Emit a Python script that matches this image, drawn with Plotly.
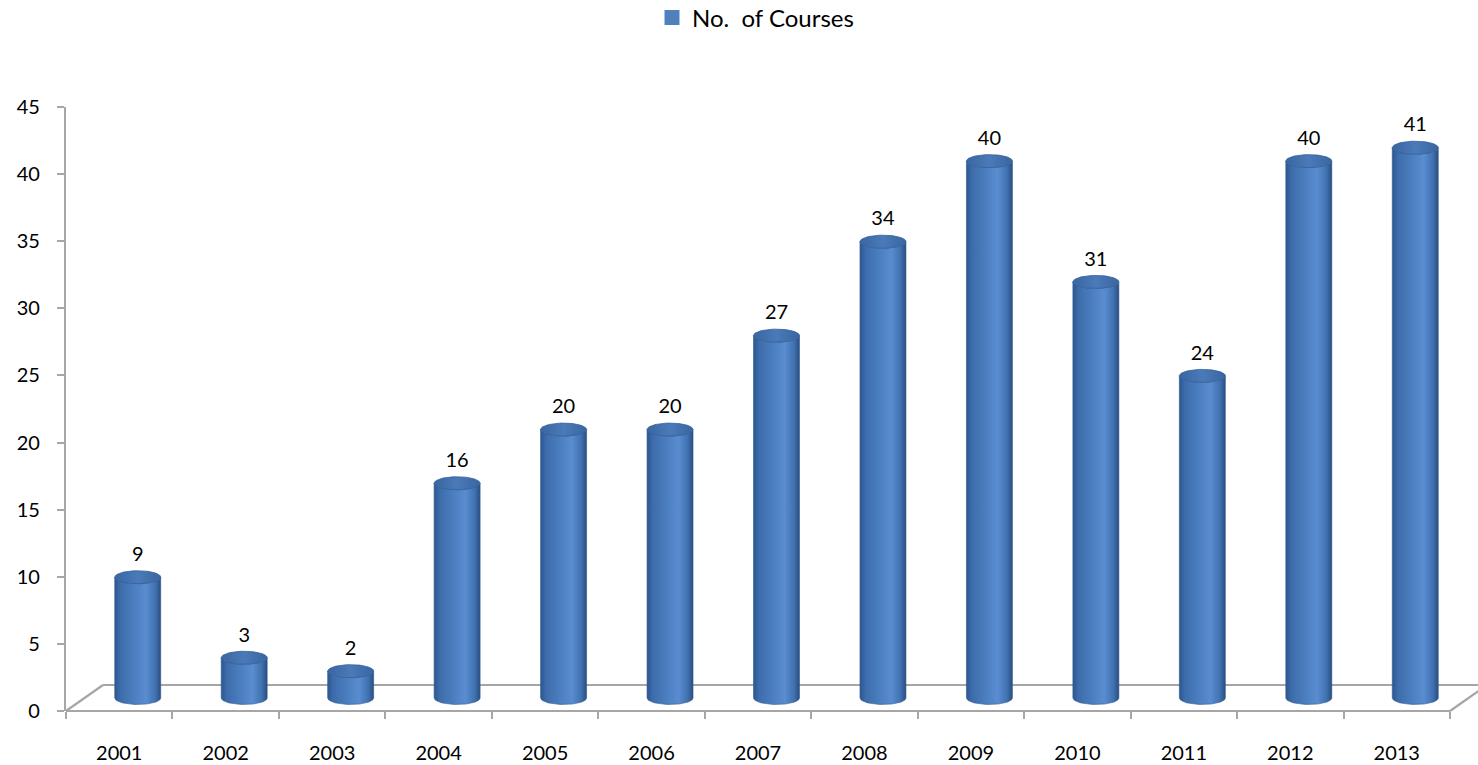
import numpy as np
import plotly.graph_objects as go

years = ["2001", "2002", "2003", "2004", "2005", "2006", "2007",
         "2008", "2009", "2010", "2011", "2012", "2013"]
courses = [9, 3, 2, 16, 20, 20, 27, 34, 40, 31, 24, 40, 41]
series_name = "No.\u00a0 of Courses"
y_ticks = [0, 5, 10, 15, 20, 25, 30, 35, 40, 45]

FONT = "Lato"
GRID = "#A6A6A6"
TICK_SIZE = 20

# geometry (data units)
W_PX, H_PX = 1478, 765
ML, MR, MT, MB = 66, 0, 107, 54
cat_px = (1450 - 66) / 13.0
X0 = -0.5
X1 = X0 + (W_PX - ML - MR) / cat_px
Y0, Y1 = 0, 45
unit_px = (H_PX - MT - MB) / 45.0

depth_dx = 37 / cat_px
depth_dy = 26 / unit_px
cx_off = depth_dx / 2
base = depth_dy / 2
hw = 23 / cat_px
eh = 6.5 / unit_px

fig = go.Figure()

t = np.linspace(0, np.pi, 40)
body_scale = [[0, "#2C5790"], [0.12, "#3D6CAB"], [0.45, "#4C80C1"],
              [0.68, "#598DD0"], [0.88, "#4172B2"], [1, "#2A4E80"]]
top_scale = [[0, "#3A66A0"], [0.5, "#4A7AB9"], [1, "#3A66A0"]]

for i, v in enumerate(courses):
    cx = i + cx_off
    top = base + v
    arc_x = cx - hw * np.cos(t)
    arc_y_top = top - eh * np.sin(t)
    arc_y_bot = base - eh * np.sin(t)
    bx = np.concatenate([[cx - hw], arc_x, arc_x[::-1]])
    by = np.concatenate([[base], arc_y_top, arc_y_bot[::-1]])
    fig.add_trace(go.Scatter(
        x=bx, y=by, mode="lines", fill="toself",
        line=dict(width=0.6, color="#2F5A8E"),
        fillgradient=dict(type="horizontal", colorscale=body_scale),
        hoverinfo="skip", showlegend=False))
    tt = np.linspace(0, 2 * np.pi, 80)
    fig.add_trace(go.Scatter(
        x=cx + hw * np.cos(tt), y=top + eh * np.sin(tt),
        mode="lines", fill="toself",
        line=dict(width=0.8, color="#34609A"),
        fillgradient=dict(type="horizontal", colorscale=top_scale),
        hoverinfo="skip", showlegend=False))

# data labels
fig.add_trace(go.Scatter(
    x=[i + cx_off for i in range(len(courses))],
    y=[base + v + eh + 0.35 for v in courses],
    mode="text", text=[str(v) for v in courses],
    textposition="top center",
    textfont=dict(family=FONT, size=TICK_SIZE, color="#000000"),
    hoverinfo="skip", showlegend=False, cliponaxis=False))

# legend entry
fig.add_trace(go.Scatter(x=[None], y=[None], name=series_name,
                         mode="markers",
                         marker=dict(color="#4F81BD", symbol="square",
                                     size=15),
                         showlegend=True))


def px(x):
    return (x - X0) / (X1 - X0)


def py(y):
    return (y - Y0) / (Y1 - Y0)


floor = [
    ((-0.5, 0), (12.5, 0)),
    ((-0.5, 0), (-0.5 + depth_dx, depth_dy)),
    ((-0.5 + depth_dx, depth_dy), (12.5 + depth_dx, depth_dy)),
    ((12.5, 0), (12.5 + depth_dx, depth_dy)),
]
for (xa, ya), (xb, yb) in floor:
    fig.add_shape(type="line", xref="paper", yref="paper",
                  x0=px(xa), y0=py(ya), x1=px(xb), y1=py(yb),
                  line=dict(color=GRID, width=2.2), layer="below")

fig.update_layout(
    width=W_PX, height=H_PX,
    margin=dict(l=ML, r=MR, t=MT, b=MB, autoexpand=False),
    paper_bgcolor="white", plot_bgcolor="white",
    font=dict(family=FONT, size=TICK_SIZE, color="#000000"),
    showlegend=True,
    legend=dict(orientation="h", xref="container", yref="container",
                x=652 / W_PX, xanchor="left",
                y=1 - 18 / H_PX, yanchor="middle",
                font=dict(family=FONT, size=24), itemwidth=30,
                bgcolor="rgba(0,0,0,0)"),
    xaxis=dict(range=[X0, X1], tickmode="array", automargin=False,
               tickvals=list(range(len(years))), ticktext=years,
               showline=False, showgrid=False, zeroline=False,
               ticks="", ticklabelstandoff=28,
               tickfont=dict(family=FONT, size=TICK_SIZE),
               minor=dict(tickmode="array",
                          tickvals=[k - 0.5 for k in range(len(years) + 1)],
                          ticks="outside", ticklen=7, tickwidth=2,
                          tickcolor=GRID, showgrid=False),
               fixedrange=True),
    yaxis=dict(range=[Y0, Y1], tickmode="array", tickvals=y_ticks,
               automargin=False,
               showline=True, linecolor=GRID, linewidth=2.2,
               showgrid=False, zeroline=False,
               ticks="outside", ticklen=7, tickwidth=2, tickcolor=GRID,
               ticklabelstandoff=13,
               tickfont=dict(family=FONT, size=TICK_SIZE),
               fixedrange=True),
)

fig.write_html("out.html",
               config={"displayModeBar": False},
               post_script="document.body.style.margin='0';"
                           "document.body.style.overflow='hidden';")
